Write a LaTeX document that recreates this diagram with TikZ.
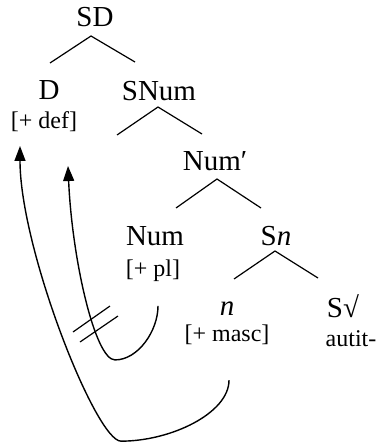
\documentclass[tikz,border=0pt]{standalone}
\usepackage{fontspec}
\setmainfont{Liberation Serif}
\usetikzlibrary{arrows.meta,positioning,calc}

\begin{document}
\begin{tikzpicture}[
            x=1pt, y=-1pt,
            cat/.style = {inner sep=0pt, font=\fontsize{29}{31}\selectfont},
            rasgo/.style = {inner sep=0pt, font=\fontsize{24}{26}\selectfont},
            rama/.style = {line width=1.2pt},
            movim/.style = {-{Triangle[length=15pt, width=11pt]}, line width=1.4pt}
        ]
        \useasboundingbox (0,0) rectangle (379,447);

        % Nodos del árbol
        \node [cat] (sd) at (95,17) {SD};
        \node [cat] (d) at (49,90) {D};
        \node [cat] (snum) at (159,91) {SNum};
        \node [cat] (numb) at (215,161) {Num′};
        \node [cat] (num) at (155,236) {Num};
        \node [cat] (sn) at (276,236) {S\textit{n}};
        \node [cat] (n) at (227,309) {\textit{n}};
        \node [cat] (sraiz) at (343,306) {S√};

        % Rasgos debajo de los núcleos
        \node [rasgo, below=12pt of d, xshift=-5pt] (def) {[+ def]};
        \node [rasgo, below=14pt of num, xshift=-2pt] (pl) {[+ pl]};
        \node [rasgo, below=9pt of n] (masc) {[+ masc]};
        \node [rasgo, below=13pt of sraiz, xshift=8pt] (raiz) {autit-};

        % Ramas
        \draw [rama] ($(d)+(1,-27)$) -- ($(sd)+(-4,19)$) -- ($(snum)+(-24,-29)$);
        \draw [rama] ($(snum)+(-42,44)$) -- ($(snum)+(-1,16)$) -- ($(numb)+(-13,-27)$);
        \draw [rama] ($(num)+(21,-28)$) -- ($(numb)+(2,18)$) -- ($(sn)+(-15,-28)$);
        \draw [rama] ($(n)+(7,-30)$) -- ($(sn)+(-1,15)$) -- ($(sraiz)+(-25,-28)$);

        % Flechas de movimiento
        \draw [movim] ($(pl)+(5,35)$) .. controls ($(pl)+(5,60)$) and ($(pl)+(-15,89)$) .. ($(pl)+(-38,89)$)
            .. controls ($(pl)+(-58,89)$) and ($(def)+(28,137)$) .. ($(def)+(24,44)$);
        \draw [movim] ($(masc)+(2,45)$) .. controls ($(masc)+(2,78)$) and ($(masc)+(-56,106)$) .. ($(masc)+(-106,106)$)
            .. controls ($(masc)+(-131,106)$) and ($(def)+(-24,127)$) .. ($(def)+(-24,24)$);

        % Movimiento bloqueado
        \draw [rama] (73,332) -- (110,306);
        \draw [rama] (80,342) -- (118,316);

    \end{tikzpicture}
\end{document}
